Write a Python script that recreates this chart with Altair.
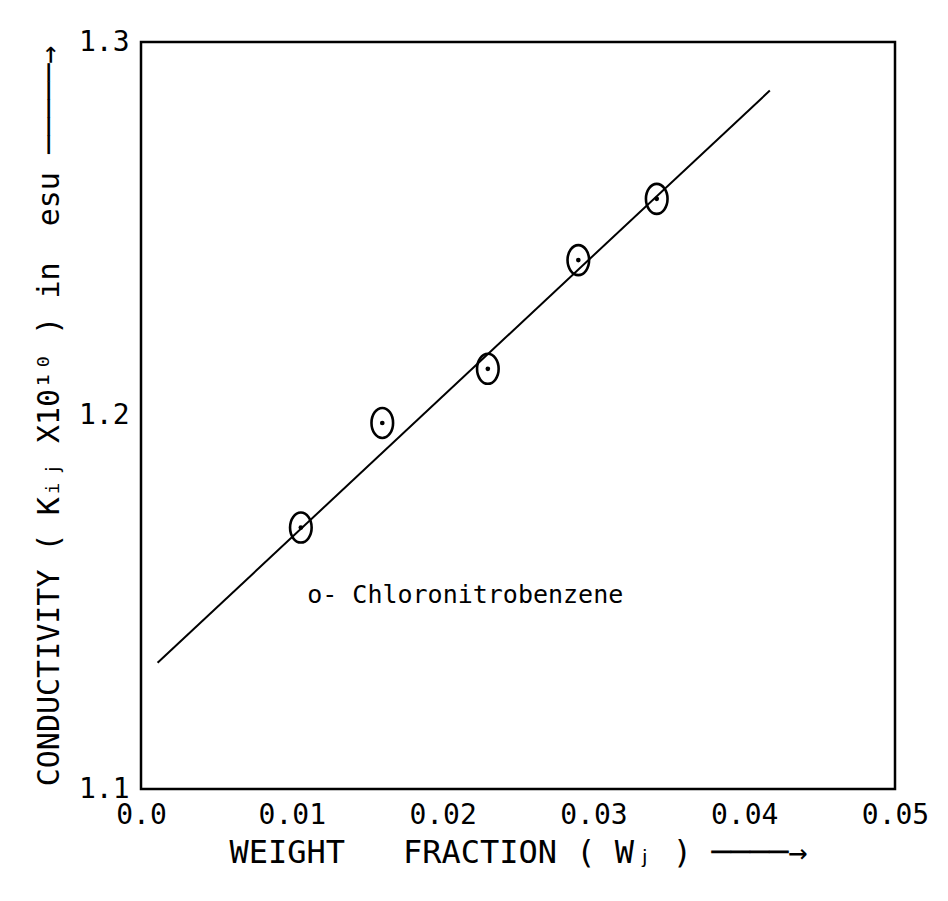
import altair as alt
import pandas as pd

# measured points (weight fraction, conductivity K_ij x 10^10 in esu)
weight_fraction = [0.0106, 0.0160, 0.0230, 0.0290, 0.0342]
conductivity = [1.170, 1.198, 1.2125, 1.2416, 1.2580]

# straight line drawn through the points
line_x = [0.0011, 0.0417]
line_y = [1.1338, 1.2870]

# annotation
label_text = ["o- Chloronitrobenzene"]
label_x = [0.0215]
label_y = [1.152]

x_ticks = [0.0, 0.01, 0.02, 0.03, 0.04, 0.05]
y_ticks = [1.1, 1.2, 1.3]

pts = pd.DataFrame({"w": weight_fraction, "k": conductivity})
fit = pd.DataFrame({"w": line_x, "k": line_y})
lab = pd.DataFrame({"w": label_x, "k": label_y, "t": label_text})

FONT = "DejaVu Sans Mono"
NB = "\u00a0"

x_enc = alt.X(
    "w:Q",
    scale=alt.Scale(domain=[0, 0.05], nice=False, zero=False),
    axis=alt.Axis(
        values=x_ticks,
        labelExpr="datum.value == 0 ? '0.0' : format(datum.value, '.2f')",
        title="WEIGHT" + NB * 3 + "FRACTION ( Wⱼ ) ────→",
    ),
)
y_enc = alt.Y(
    "k:Q",
    scale=alt.Scale(domain=[1.1, 1.3], nice=False, zero=False),
    axis=alt.Axis(
        values=y_ticks,
        format=".1f",
        title="CONDUCTIVITY ( Kᵢⱼ X10¹⁰ ) in" + NB * 2 + "esu ─────→",
    ),
)

line = alt.Chart(fit).mark_line(color="black", strokeWidth=2).encode(x=x_enc, y=y_enc)

ellipse = "M0,-1 A0.72,1 0 1,1 0,1 A0.72,1 0 1,1 0,-1 Z"
rings = alt.Chart(pts).mark_point(
    shape=ellipse, size=900, filled=False, color="black", strokeWidth=2.6, opacity=1
).encode(x="w:Q", y="k:Q")
dots = alt.Chart(pts).mark_point(
    shape="circle", size=22, filled=True, color="black", opacity=1
).encode(x="w:Q", y="k:Q")

text = alt.Chart(lab).mark_text(
    font=FONT, fontSize=25, color="black", align="center", baseline="middle"
).encode(x="w:Q", y="k:Q", text="t:N")

chart = (
    alt.layer(line, rings, dots, text)
    .properties(
        width=754,
        height=747,
        autosize=alt.AutoSizeParams(type="none"),
        padding={"left": 133, "top": 34, "right": 45, "bottom": 90},
        background="white",
    )
    .configure_view(stroke="black", strokeWidth=2.5)
    .configure_axis(
        domain=False,
        grid=False,
        ticks=False,
        labelFont=FONT,
        labelFontSize=28,
        labelColor="black",
        labelFlush=False,
        labelOverlap=False,
        titleFont=FONT,
        titleFontWeight="normal",
        titleColor="black",
    )
    .configure_axisX(labelPadding=12, titleFontSize=32, titlePadding=8)
    .configure_axisY(labelPadding=12, titleFontSize=30, titlePadding=14)
)

chart.save("out.html", embed_options={"renderer": "svg", "actions": False})
